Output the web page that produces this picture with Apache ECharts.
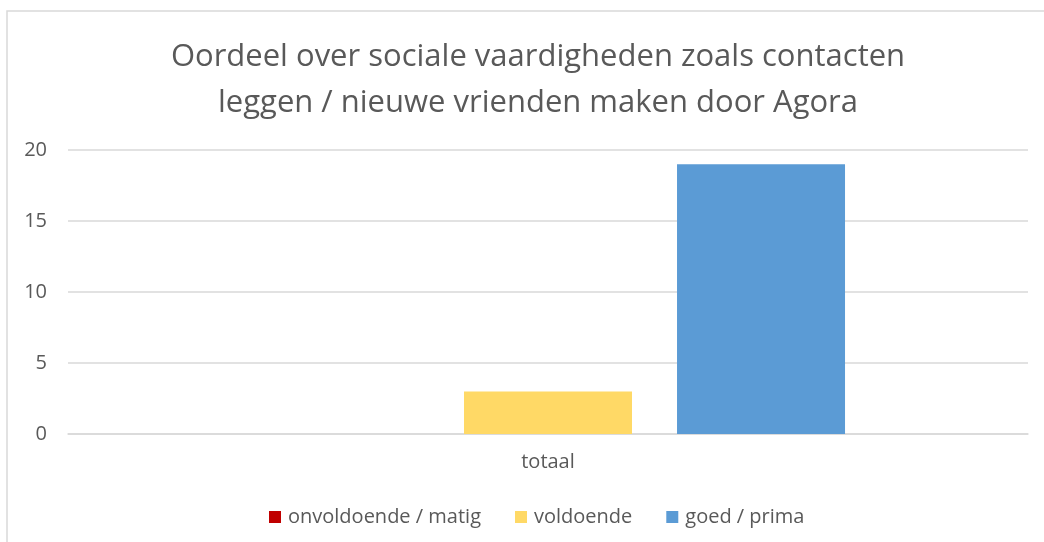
<!DOCTYPE html>
<html>
<head>
<meta charset="utf-8">
<script src="https://cdn.jsdelivr.net/npm/echarts@6/dist/echarts.min.js"></script>
<style>
  html, body { margin: 0; padding: 0; background: #fff; }
  #chart { width: 1044px; height: 542px; }
</style>
</head>
<body>
<div id="chart"></div>
<script>
  // data
  const categories = ["totaal"];
  const seriesNames = ["onvoldoende / matig", "voldoende", "goed / prima"];
  const seriesColors = ["#C00000", "#FFD966", "#5B9BD5"];
  const seriesValues = [[0], [3], [19]];
  const yTicks = { min: 0, max: 20, interval: 5 };

  const FONT = "'Open Sans', 'Liberation Sans', sans-serif";
  const TXT = "#595959";

  const chart = echarts.init(document.getElementById("chart"), null, { renderer: "canvas" });

  const option = {
    backgroundColor: "#fff",
    animation: false,
    graphic: [{
      type: "rect",
      shape: { x: 7, y: 11, width: 1100, height: 600 },
      style: { fill: "none", stroke: "#d9d9d9", lineWidth: 1.5 },
      silent: true
    }],
    title: {
      text: "Oordeel over sociale vaardigheden zoals contacten\nleggen / nieuwe vrienden maken door Agora",
      left: 533,
      textAlign: "center",
      top: 29,
      textStyle: {
        color: TXT,
        fontFamily: FONT,
        fontWeight: "normal",
        fontSize: 31,
        lineHeight: 46
      }
    },
    legend: {
      bottom: 10,
      left: 264,
      itemWidth: 12,
      itemHeight: 12,
      itemGap: 34,
      icon: "rect",
      textStyle: { color: TXT, fontFamily: FONT, fontSize: 20, padding: [0, 0, 0, 2] },
      data: seriesNames
    },
    grid: { left: 68, right: 16, top: 150, bottom: 108 },
    xAxis: {
      type: "category",
      data: categories,
      axisLine: { lineStyle: { color: "#d9d9d9", width: 1.5 } },
      axisTick: { show: false },
      axisLabel: { color: TXT, fontFamily: FONT, fontSize: 20, margin: 18 }
    },
    yAxis: {
      type: "value",
      min: yTicks.min,
      max: yTicks.max,
      interval: yTicks.interval,
      axisLine: { show: false },
      axisTick: { show: false },
      splitLine: { lineStyle: { color: "#d9d9d9", width: 1.5 } },
      axisLabel: { color: TXT, fontFamily: FONT, fontSize: 20, margin: 21 }
    },
    series: seriesNames.map((name, i) => ({
      name: name,
      type: "bar",
      data: seriesValues[i],
      barWidth: 168,
      barGap: "26.8%",
      itemStyle: { color: seriesColors[i] }
    }))
  };

  chart.setOption(option);
</script>
</body>
</html>
